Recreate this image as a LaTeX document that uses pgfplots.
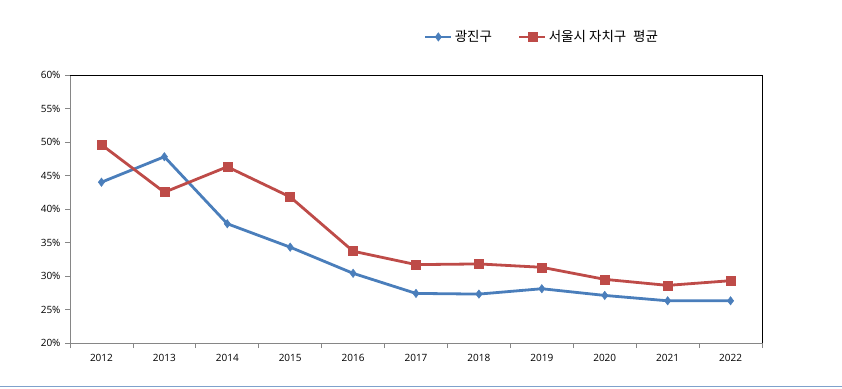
\documentclass[border=0pt]{standalone}
\usepackage{fontspec}
\setmainfont{Noto Sans CJK KR}
\newfontfamily\tickfont{Open Sans}
\usepackage{pgfplots}
\pgfplotsset{compat=1.18}
\definecolor{exblue}{HTML}{4A7EBB}
\definecolor{exred}{HTML}{BE4B48}
\definecolor{axgray}{HTML}{868686}
\definecolor{bline}{HTML}{7FA1CC}
\begin{document}
\begin{tikzpicture}
\useasboundingbox (0pt,0pt) rectangle (842pt,388pt);
\draw[bline, line width=1pt] (0pt,1.5pt) -- (842pt,1.5pt);
\begin{axis}[
  at={(70pt,45pt)}, anchor=south west,
  scale only axis, width=692pt, height=268pt,
  xmin=-0.5, xmax=10.5, ymin=20, ymax=60,
  xtick={0,...,10},
  xticklabels={2012,2013,2014,2015,2016,2017,2018,2019,2020,2021,2022},
  major x tick style={draw=none},
  minor xtick={-0.5,0.5,...,10.5},
  minor tick length=5pt,
  ytick={20,25,...,60},
  yticklabel={\pgfmathprintnumber{\tick}\%},
  major tick length=5pt,
  tick align=outside,
  tick style={axgray, line width=0.8pt},
  axis x line*=bottom, axis y line*=left,
  axis line style={axgray, line width=0.8pt, -},
  tick label style={font=\tickfont\fontsize{10}{12}\selectfont, black},
  xticklabel style={yshift=-3pt},
  yticklabel style={xshift=-1pt},
  /pgf/number format/assume math mode=true,
  clip=false,
  legend style={at={(0.682,1.142)}, anchor=center, draw=none, fill=none,
    font=\fontsize{13.5}{15}\selectfont, legend columns=2,
    /tikz/every even column/.append style={column sep=24pt}},
  legend image code/.code={\draw[#1, mark repeat=2, mark phase=2] plot coordinates {(0pt,0pt) (13pt,0pt) (26pt,0pt)};},
]
\draw[black, line width=0.8pt] (rel axis cs:0,1) -- (rel axis cs:1,1) -- (rel axis cs:1,0);
\addplot[exblue, line width=2.8pt, mark=diamond*, mark size=4.2pt, mark options={line width=0.5pt}] coordinates {
(0,44.0) (1,47.8) (2,37.8) (3,34.3) (4,30.4) (5,27.4) (6,27.3) (7,28.1) (8,27.1) (9,26.3) (10,26.3)};
\addlegendentry{광진구}
\addplot[exred, line width=2.8pt, mark=square*, mark size=4.5pt, mark options={line width=0.5pt}] coordinates {
(0,49.6) (1,42.5) (2,46.3) (3,41.8) (4,33.7) (5,31.7) (6,31.8) (7,31.3) (8,29.5) (9,28.6) (10,29.3)};
\addlegendentry{서울시 자치구\enspace 평균}
\end{axis}
\end{tikzpicture}
\end{document}
